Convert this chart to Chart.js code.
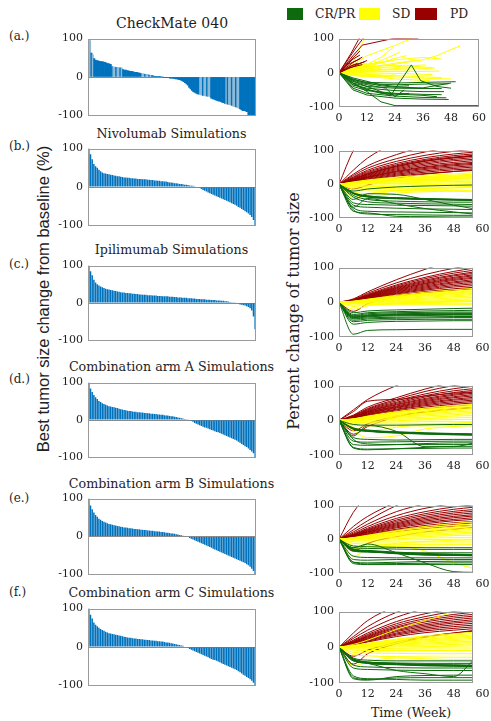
<!DOCTYPE html>
<html>
<head>
<meta charset="utf-8">
<script src="https://cdn.jsdelivr.net/npm/chart.js@4.4.1/dist/chart.umd.min.js"></script>
<style>
  html, body { margin: 0; padding: 0; background: #fff; }
  body { position: relative; width: 491px; height: 721px; overflow: hidden; }
  canvas { position: absolute; }
  .txt { position: absolute; font-family: 'DejaVu Serif', serif; color: #1e1e1e; white-space: nowrap; line-height: 1; }
  .c { transform: translate(-50%, -50%); }
  .v { transform: translateY(-50%); }
  .rot { transform: translate(-50%, -50%) rotate(-90deg); }
  .sw { position: absolute; }
</style>
</head>
<body>

<!-- legend -->
<div class="sw" style="left:287px;top:8px;width:16px;height:12px;background:#0d6b0d"></div>
<div class="txt v" style="left:315px;top:14px;font-size:12.3px">CR/PR</div>
<div class="sw" style="left:359px;top:8px;width:21px;height:12px;background:#ffff00"></div>
<div class="txt v" style="left:392px;top:14px;font-size:12.3px">SD</div>
<div class="sw" style="left:415px;top:8px;width:22px;height:12px;background:#990000"></div>
<div class="txt v" style="left:450px;top:14px;font-size:12.3px">PD</div>

<!-- panel titles -->
<div class="txt c" style="left:172px;top:23px;font-size:14px">CheckMate 040</div>
<div class="txt c" style="left:171.5px;top:134px;font-size:12.7px">Nivolumab Simulations</div>
<div class="txt c" style="left:171.5px;top:250px;font-size:12.7px">Ipilimumab Simulations</div>
<div class="txt c" style="left:171.5px;top:367px;font-size:12.7px">Combination arm A Simulations</div>
<div class="txt c" style="left:171.5px;top:484px;font-size:12.7px">Combination arm B Simulations</div>
<div class="txt c" style="left:171.5px;top:593px;font-size:12.7px">Combination arm C Simulations</div>

<!-- panel letters -->
<div class="txt v" style="left:9px;top:36px;font-size:12px">(a.)</div>
<div class="txt v" style="left:9px;top:146px;font-size:12px">(b.)</div>
<div class="txt v" style="left:9px;top:264px;font-size:12px">(c.)</div>
<div class="txt v" style="left:9px;top:379px;font-size:12px">(d.)</div>
<div class="txt v" style="left:9px;top:498px;font-size:12px">(e.)</div>
<div class="txt v" style="left:9px;top:592px;font-size:12px">(f.)</div>

<!-- axis titles -->
<div class="txt rot" style="left:43px;top:299px;font-size:16.5px;font-family:'Liberation Sans',Arial,sans-serif;color:#222">Best tumor size change from baseline (%)</div>
<div class="txt rot" style="left:294px;top:311px;font-size:16px">Percent change of tumor size</div>
<div class="txt c" style="left:411px;top:713px;font-size:12.6px">Time (Week)</div>

<script>
// ---------------- tick labels ----------------
const RESPONSE_TICKS = [-100, 0, 100];
const WEEK_TICKS = [0, 12, 24, 36, 48, 60];

// ---------------- waterfall data: best change from baseline (%), sorted ----------------
const CM040_BEST = [
  97, 95, 62, 58, 48,
  44, 43, 42, 41, 40, 40, 39, 38,
  36, 35, 34, 33,
  27, 26, 26, 25, 25, 24, 24, 23,
  19, 18, 18, 17, 16, 15, 15, 14, 13, 12, 12, 11, 10,
  9, 8, 8, 7, 6, 6, 5, 4, 4, 3, 2,
  2, 1, 1, 1, 0, 0, -1,
  -1, -2, -2, -3, -3, -4, -4, -5, -5, -6, -7, -8,
  -10, -12, -15, -18, -21,
  -27, -31, -35, -38, -40,
  -42, -44, -45,
  -46, -47, -48, -48, -49, -50, -50, -51,
  -55, -57, -58, -60, -61, -62, -63, -64, -66, -67,
  -69, -70, -71, -72, -73, -74, -76, -77, -78, -80, -81, -83,
  -86, -88, -88, -89, -90,
  -98, -99, -100, -100, -100, -100
];

const NIVO_BEST = [
  100, 85, 72, 60, 54, 50, 45, 41, 38, 36,
  35, 34, 33, 32, 31, 30, 29, 28, 28, 27,
  26, 25, 25, 24, 24, 23, 23, 22, 22, 21,
  21, 21, 20, 20, 20, 19, 19, 18, 18, 17,
  17, 16, 16, 15, 15, 14, 14, 13, 12, 12,
  11, 10, 10, 9, 8, 8, 7, 6, 6, 5,
  4, 3, 3, 2, 1, 0, -2, -5, -8, -10,
  -12, -14, -16, -18, -20, -22, -24, -26, -28, -30,
  -32, -34, -36, -38, -40, -42, -44, -46, -49, -52,
  -54, -57, -60, -63, -66, -69, -73, -78, -86, -100
];

const IPI_BEST = [
  100, 85, 74, 62, 55, 50, 47, 44, 42, 40,
  38, 37, 36, 35, 34, 33, 32, 31, 30, 29,
  28, 28, 27, 27, 26, 26, 25, 25, 24, 24,
  23, 23, 22, 22, 22, 21, 21, 21, 20, 20,
  20, 19, 19, 19, 18, 18, 18, 18, 17, 17,
  17, 16, 16, 15, 15, 15, 14, 14, 14, 13,
  13, 13, 12, 12, 11, 11, 11, 10, 10, 10,
  9, 9, 9, 8, 8, 8, 7, 7, 7, 6,
  6, 5, 5, 4, 3, 2, 2, 1, 0, -2,
  -4, -5, -6, -7, -9, -11, -14, -20, -36, -70
];

const ARM_A_BEST = [
  100, 84, 75, 67, 61, 56, 51, 48, 45, 43,
  41, 39, 37, 36, 35, 34, 33, 32, 30, 29,
  28, 27, 26, 25, 24, 24, 23, 22, 22, 21,
  21, 20, 20, 19, 19, 18, 18, 17, 17, 16,
  16, 15, 15, 14, 14, 13, 12, 12, 11, 10,
  10, 9, 8, 7, 6, 5, 4, 3, 2, 1,
  0, -3, -5, -8, -10, -12, -14, -16, -18, -20,
  -21, -23, -25, -27, -28, -30, -32, -33, -35, -37,
  -39, -41, -43, -45, -47, -49, -51, -53, -55, -58,
  -61, -64, -67, -70, -72, -76, -80, -84, -89, -100
];

const ARM_B_BEST = [
  100, 82, 72, 63, 57, 52, 47, 44, 41, 39,
  37, 35, 33, 32, 31, 30, 29, 28, 27, 26,
  25, 24, 24, 23, 22, 22, 21, 20, 20, 19,
  19, 18, 18, 17, 17, 16, 16, 15, 15, 14,
  14, 13, 13, 12, 12, 11, 10, 10, 9, 8,
  8, 7, 6, 5, 4, 3, 2, 1, 0, -1,
  -4, -6, -8, -10, -12, -14, -16, -18, -20, -22,
  -24, -26, -28, -30, -32, -34, -36, -38, -40, -42,
  -44, -46, -48, -50, -52, -54, -56, -58, -60, -62,
  -64, -66, -68, -70, -73, -76, -80, -85, -91, -100
];

const ARM_C_BEST = [
  100, 84, 74, 64, 58, 54, 50, 47, 44, 42,
  40, 38, 36, 35, 34, 33, 32, 31, 30, 29,
  28, 27, 26, 25, 24, 24, 23, 22, 22, 21,
  21, 20, 20, 19, 19, 18, 18, 17, 17, 16,
  16, 15, 15, 14, 14, 13, 12, 12, 11, 10,
  9, 8, 7, 6, 5, 4, 3, 1, 0, -2,
  -5, -7, -9, -11, -13, -15, -17, -19, -21, -23,
  -25, -27, -29, -31, -33, -34, -36, -38, -40, -42,
  -44, -46, -48, -50, -52, -54, -56, -58, -60, -63,
  -66, -69, -72, -75, -78, -81, -84, -88, -93, -100
];

// ---------------- CheckMate 040 trajectories: [week, % change] ----------------
const CM040_PD = [
  [[0, 0], [4, 40], [8, 80], [12, 115]],
  [[0, 0], [5, 55], [9, 105]],
  [[0, 0], [4, 30], [9, 64]],
  [[0, 0], [6, 30], [10, 46]],
  [[0, 0], [4, 25], [9, 41]],
  [[0, 0], [6, 22], [11, 32]],
  [[0, 0], [5, 20], [8, 28]],
  [[0, 0], [6, 40], [9, 52]],
  [[0, 0], [6, 50], [10, 81], [23, 100], [34, 101]],
  [[0, 0], [6, 18], [12, 36]],
  [[0, 0], [4, 14], [10, 24]]
];

const CM040_SD = [
  [[0, 0], [6, 30], [11, 100]],
  [[0, 0], [6, 25], [12, 50], [24, 80], [31, 100]],
  [[0, 0], [6, 10], [12, 15], [18, 20], [24, 25], [30, 32], [36, 38], [42, 50], [48, 68], [52, 79]],
  [[0, 0], [6, 15], [12, 25], [18, 45], [23, 73]],
  [[0, 0], [6, 12], [12, 22], [18, 35], [26, 60]],
  [[0, 0], [6, 10], [12, 20], [18, 30], [24, 42], [29, 50]],
  [[0, 0], [6, 8], [12, 15], [24, 28], [33, 37]],
  [[0, 0], [6, 6], [12, 12], [24, 18], [37, 23]],
  [[0, 0], [6, 5], [12, 8], [24, 12], [34, 18]],
  [[0, 0], [6, 4], [12, 6], [24, 10], [36, 12], [41, 14]],
  [[0, 0], [6, 3], [12, 4], [24, 5], [31, 5]],
  [[0, 0], [6, 2], [12, 3], [24, 4], [36, 4], [43, 5]],
  [[0, 0], [6, 1], [12, 0], [24, -2], [40, -5]],
  [[0, 0], [6, -2], [12, -5], [24, -8], [36, -12], [44, -14]],
  [[0, 0], [6, -4], [12, -8], [24, -12], [36, -16], [48, -18]],
  [[0, 0], [6, -5], [12, -10], [24, -18], [39, -23]],
  [[0, 0], [6, 15], [12, 25], [18, 32]],
  [[0, 0], [6, 18], [12, 28]],
  [[0, 0], [6, 8], [12, 10], [18, 12]],
  [[0, 0], [6, 5], [12, -3], [18, -8]],
  [[0, 0], [6, 12], [12, 18], [24, 22], [30, 20], [40, 15]],
  [[0, 0], [6, -8], [12, -12], [18, -10], [24, -6]],
  [[0, 0], [12, 20], [24, 38], [36, 45], [44, 40]]
];

const CM040_CR = [
  [[0, 0], [6, -30], [12, -55], [18, -85], [24, -96], [60, -96]],
  [[0, 0], [6, -25], [12, -40], [18, -55], [22, -68], [31, 23], [35, -23], [42, -40], [48, -45]],
  [[0, 0], [6, -20], [12, -28], [24, -30], [36, -28], [50, -26]],
  [[0, 0], [6, -22], [12, -32], [24, -35], [36, -33], [47, -32]],
  [[0, 0], [6, -30], [12, -40], [24, -45], [36, -46], [44, -46]],
  [[0, 0], [6, -35], [12, -45], [24, -52], [36, -55], [45, -55]],
  [[0, 0], [6, -40], [12, -52], [24, -60], [36, -63], [44, -64]],
  [[0, 0], [6, -45], [12, -60], [24, -68], [36, -72], [46, -73]],
  [[0, 0], [6, -50], [12, -65], [24, -74], [36, -77], [47, -78]],
  [[0, 0], [6, -30], [12, -50], [18, -60], [24, -65], [30, -60]],
  [[0, 0], [6, -15], [12, -25], [18, -35], [24, -40], [30, -38]],
  [[0, 0], [6, -25], [12, -35], [20, -45], [24, -70], [28, -50]],
  [[0, 0], [6, -18], [12, -30], [18, -38], [24, -42], [36, -44], [48, -30]],
  [[0, 0], [6, -35], [12, -48], [18, -58], [24, -62], [36, -66], [42, -70]]
];

// ---------------- simulated trajectories: % change at WEEKS ----------------
const WEEKS = [0, 6, 12, 24, 36, 48, 56];

const NIVO_PD = [
  [0, 100, 160, 230, 280, 320, 340],
  [0, 42, 78, 125, 155, 175, 185],
  [0, 30, 55, 88, 112, 130, 138],
  [0, 26, 48, 76, 96, 110, 116],
  [0, 22, 42, 68, 86, 98, 104],
  [0, 20, 38, 62, 79, 90, 95],
  [0, 18, 35, 58, 74, 85, 90],
  [0, 16, 32, 55, 71, 81, 86],
  [0, 15, 31, 53, 69, 79, 84],
  [0, 15, 30, 52, 68, 78, 83],
  [0, 14, 28, 49, 64, 74, 79],
  [0, 13, 26, 46, 60, 70, 74],
  [0, 12, 24, 43, 56, 65, 70],
  [0, 11, 22, 40, 52, 61, 65],
  [0, 11, 21, 38, 50, 58, 62],
  [0, 10, 20, 36, 47, 55, 59],
  [0, 9, 18, 33, 44, 51, 55],
  [0, 8, 16, 30, 40, 47, 51],
  [0, 7, 14, 27, 36, 43, 46],
  [0, 6, 12, 24, 32, 38, 41],
  [0, -14, -2, 18, 30, 38, 43]
];
const NIVO_SD = [
  [0, 7, 13, 21, 27, 31, 34],
  [0, 6, 11, 18, 23, 27, 30],
  [0, 5, 10, 16, 21, 25, 27],
  [0, 4, 9, 15, 19, 23, 25],
  [0, 4, 8, 14, 18, 21, 23],
  [0, 3, 7, 12, 16, 19, 21],
  [0, 3, 6, 11, 14, 17, 19],
  [0, 2, 5, 9, 12, 15, 16],
  [0, 2, 4, 7, 10, 12, 13],
  [0, 1, 2, 4, 6, 8, 9],
  [0, 0, 1, 2, 3, 4, 5],
  [0, -3, -3, -2, -1, 0, 1],
  [0, -6, -7, -6, -5, -4, -4],
  [0, -10, -12, -12, -11, -11, -10],
  [0, -14, -17, -18, -18, -18, -18],
  [0, -40, -28, -18, -12, -8, -6],
  [0, -30, -36, -26, -22, -21, -22],
  [0, -22, -28, -20, -14, -10, -8]
];
const NIVO_CR = [
  [0, -27, -36, -41, -44, -46, -47],
  [0, -26, -35, -40, -43, -45, -46],
  [0, -25, -34, -40, -42, -44, -45],
  [0, -28, -38, -43, -45, -47, -48],
  [0, -27, -37, -42, -45, -46, -47],
  [0, -33, -45, -50, -52, -53, -53],
  [0, -55, -60, -62, -63, -64, -65],
  [0, -62, -68, -71, -73, -74, -75],
  [0, -70, -80, -82, -83, -84, -85],
  [0, -76, -88, -90, -91, -92, -92],
  [0, -80, -85, -95, -96, -97, -97],
  [0, -20, -14, -8, -5, -3, -2],
  [0, -45, -28, -30, -45, -62, -72],
  [0, -68, -42, -58, -72, -82, -88],
  [0, -38, -52, -56, -58, -59, -60]
];

const IPI_PD = [
  [0, 10, 30, 65, 95, 120, 135],
  [0, 8, 26, 56, 80, 98, 108],
  [0, 7, 23, 50, 72, 89, 98],
  [0, 7, 21, 47, 68, 84, 92],
  [0, 6, 20, 44, 64, 79, 87],
  [0, 6, 19, 42, 61, 76, 83],
  [0, 5, 18, 40, 58, 72, 79],
  [0, 5, 17, 38, 55, 69, 76],
  [0, 5, 16, 36, 53, 66, 72],
  [0, 4, 15, 34, 50, 63, 69],
  [0, 4, 14, 32, 47, 59, 65],
  [0, 4, 13, 30, 44, 56, 61],
  [0, 3, 12, 28, 41, 52, 57],
  [0, 3, 11, 26, 38, 48, 53],
  [0, 3, 10, 24, 35, 44, 48],
  [0, 2, 9, 21, 31, 39, 43],
  [0, 2, 8, 19, 28, 35, 39],
  [0, -26, -4, 15, 28, 36, 40]
];
const IPI_SD = [
  [0, 3, 9, 20, 29, 36, 40],
  [0, 3, 8, 18, 26, 32, 36],
  [0, 2, 7, 16, 24, 29, 33],
  [0, 2, 7, 15, 22, 27, 31],
  [0, 2, 6, 14, 20, 25, 28],
  [0, 1, 5, 12, 18, 22, 25],
  [0, 1, 4, 10, 15, 19, 22],
  [0, 1, 3, 8, 12, 16, 18],
  [0, 0, 2, 6, 9, 12, 14],
  [0, 0, 1, 4, 6, 8, 10],
  [0, -1, 0, 2, 3, 5, 6],
  [0, -2, -2, -1, 0, 1, 2],
  [0, -4, -4, -4, -4, -4, -4],
  [0, -8, -7, -7, -7, -7, -7],
  [0, -12, -8, -4, -1, 1, 2],
  [0, -20, -10, -3, 1, 3, 4]
];
const IPI_CR = [
  [0, -44, -40, -37, -36, -35, -35],
  [0, -42, -38, -35, -34, -33, -33],
  [0, -46, -42, -39, -38, -37, -37],
  [0, -43, -39, -36, -35, -34, -34],
  [0, -40, -36, -33, -32, -31, -31],
  [0, -48, -45, -43, -42, -41, -41],
  [0, -30, -25, -22, -20, -18, -17],
  [0, -35, -30, -27, -25, -24, -23],
  [0, -38, -33, -30, -29, -28, -28],
  [0, -52, -48, -46, -45, -44, -44],
  [0, -56, -52, -50, -49, -49, -49],
  [0, -63, -58, -55, -54, -53, -53],
  [0, -92, -81, -79, -78, -78, -78]
];

const ARM_A_PD = [
  [0, 30, 60, 100, 130, 150, 160],
  [0, 25, 55, 60, 70, 78, 82],
  [0, 15, 38, 65, 90, 110, 120],
  [0, 13, 34, 60, 83, 100, 108],
  [0, 12, 32, 56, 76, 91, 98],
  [0, 11, 30, 52, 71, 85, 91],
  [0, 10, 28, 49, 67, 80, 86],
  [0, 9, 26, 46, 63, 75, 81],
  [0, 9, 25, 44, 60, 72, 78],
  [0, 8, 23, 41, 57, 68, 74],
  [0, 8, 22, 39, 54, 65, 70],
  [0, 7, 20, 37, 51, 61, 66],
  [0, 7, 19, 35, 48, 58, 62],
  [0, 6, 17, 32, 45, 54, 58],
  [0, 6, 16, 30, 42, 50, 54],
  [0, 5, 14, 27, 38, 46, 50],
  [0, 5, 12, 24, 34, 41, 45],
  [0, -40, -18, 10, 25, 33, 38],
  [0, -30, -10, 12, 24, 32, 36]
];
const ARM_A_SD = [
  [0, 4, 12, 25, 35, 42, 46],
  [0, 4, 11, 23, 32, 39, 43],
  [0, 3, 10, 21, 30, 36, 40],
  [0, 3, 9, 19, 27, 33, 37],
  [0, 3, 8, 17, 25, 30, 34],
  [0, 2, 7, 15, 22, 27, 31],
  [0, 2, 6, 13, 19, 24, 27],
  [0, 1, 5, 11, 16, 20, 23],
  [0, 1, 4, 9, 13, 16, 19],
  [0, 0, 2, 6, 9, 12, 14],
  [0, -1, 0, 3, 5, 7, 9],
  [0, -3, -3, -1, 1, 2, 3],
  [0, -6, -6, -5, -4, -4, -4],
  [0, -10, -10, -10, -10, -10, -10],
  [0, -15, -16, -16, -16, -16, -16],
  [0, -30, -50, -45, -25, -18, -14],
  [0, -20, -30, -20, -12, -8, -6]
];
const ARM_A_CR = [
  [0, -24, -30, -35, -38, -40, -41],
  [0, -23, -29, -34, -37, -39, -40],
  [0, -25, -31, -36, -39, -41, -42],
  [0, -24, -31, -35, -38, -40, -41],
  [0, -26, -32, -37, -40, -42, -43],
  [0, -22, -28, -33, -36, -38, -39],
  [0, -12, -14, -14, -13, -12, -12],
  [0, -50, -55, -57, -56, -55, -55],
  [0, -60, -63, -62, -61, -60, -60],
  [0, -70, -72, -70, -67, -65, -65],
  [0, -80, -85, -82, -78, -75, -75],
  [0, -78, -83, -82, -81, -80, -80],
  [0, -45, -15, -32, -76, -76, -66],
  [0, -55, -68, -70, -70, -70, -70]
];

const ARM_B_PD = [
  [0, 80, 130, 200, 250, 290, 310],
  [0, 38, 68, 110, 140, 160, 170],
  [0, 28, 55, 100, 130, 150, 160],
  [0, 22, 45, 82, 105, 122, 130],
  [0, 18, 38, 70, 92, 106, 113],
  [0, 15, 33, 62, 82, 96, 102],
  [0, 14, 30, 57, 76, 89, 95],
  [0, 13, 28, 53, 71, 83, 88],
  [0, 12, 26, 49, 66, 78, 83],
  [0, 11, 24, 46, 62, 73, 78],
  [0, 10, 22, 43, 58, 68, 73],
  [0, 10, 21, 40, 54, 64, 69],
  [0, 9, 19, 37, 50, 59, 64],
  [0, 8, 17, 34, 46, 55, 59],
  [0, 7, 15, 30, 41, 49, 53],
  [0, 6, 13, 27, 37, 44, 48],
  [0, 5, 11, 23, 32, 38, 41],
  [0, -35, -12, 8, 22, 30, 35]
];
const ARM_B_SD = [
  [0, 5, 12, 26, 38, 47, 52],
  [0, 4, 11, 24, 34, 42, 46],
  [0, 4, 10, 21, 30, 37, 41],
  [0, 3, 9, 19, 27, 33, 37],
  [0, 3, 8, 17, 24, 30, 33],
  [0, 2, 7, 15, 21, 26, 29],
  [0, 2, 6, 13, 18, 23, 25],
  [0, 1, 5, 11, 15, 19, 21],
  [0, 1, 4, 9, 12, 15, 17],
  [0, 0, 2, 6, 8, 11, 12],
  [0, -1, 0, 2, 4, 5, 6],
  [0, -3, -3, -2, -1, 0, 0],
  [0, -7, -8, -8, -8, -8, -8],
  [0, -12, -14, -15, -15, -15, -15],
  [0, -18, -20, -22, -23, -24, -25],
  [0, -50, -30, -20, -35, -70, -86],
  [0, -28, -22, -12, -6, -3, -2]
];
const ARM_B_CR = [
  [0, -31, -35, -41, -45, -46, -47],
  [0, -30, -34, -40, -44, -45, -46],
  [0, -32, -36, -42, -46, -47, -48],
  [0, -31, -36, -41, -45, -47, -48],
  [0, -33, -37, -43, -47, -48, -49],
  [0, -29, -33, -38, -42, -44, -45],
  [0, -20, -22, -24, -25, -25, -25],
  [0, -25, -27, -29, -30, -30, -30],
  [0, -35, -38, -40, -40, -40, -40],
  [0, -50, -54, -55, -55, -55, -55],
  [0, -60, -62, -60, -60, -60, -60],
  [0, -68, -70, -68, -66, -65, -65],
  [0, -68, -73, -72, -71, -70, -70],
  [0, -72, -75, -75, -75, -75, -75],
  [0, -25, -14, -40, -70, -96, -98]
];

const ARM_C_PD = [
  [0, 40, 75, 115, 140, 160, 170],
  [0, 30, 58, 98, 122, 140, 148],
  [0, 25, 48, 84, 108, 124, 132],
  [0, 20, 40, 72, 94, 108, 115],
  [0, 18, 36, 66, 86, 100, 106],
  [0, 16, 33, 61, 80, 92, 98],
  [0, 15, 31, 57, 75, 87, 92],
  [0, 14, 29, 54, 71, 82, 87],
  [0, 13, 27, 50, 66, 77, 82],
  [0, 12, 25, 47, 62, 72, 77],
  [0, 11, 23, 44, 58, 68, 72],
  [0, 10, 21, 40, 54, 63, 67],
  [0, 9, 19, 37, 50, 58, 62],
  [0, 8, 17, 34, 46, 53, 57],
  [0, 7, 15, 30, 41, 48, 52],
  [0, -47, -18, 10, 28, 40, 47],
  [0, -25, -8, 14, 30, 40, 45]
];
const ARM_C_SD = [
  [0, 5, 11, 23, 32, 38, 42],
  [0, 4, 10, 21, 29, 35, 38],
  [0, 4, 9, 19, 26, 31, 34],
  [0, 3, 8, 17, 23, 28, 31],
  [0, 3, 7, 15, 21, 25, 28],
  [0, 2, 6, 13, 18, 22, 25],
  [0, 2, 5, 11, 15, 19, 21],
  [0, 1, 4, 9, 12, 15, 17],
  [0, 1, 3, 7, 9, 12, 13],
  [0, 0, 2, 4, 6, 8, 9],
  [0, -1, 0, 1, 2, 3, 4],
  [0, -4, -4, -3, -2, -2, -2],
  [0, -8, -9, -9, -9, -9, -9],
  [0, -14, -16, -17, -18, -18, -18],
  [0, -20, -24, -26, -27, -28, -28],
  [0, -52, -40, -30, -32, -34, -34],
  [0, 8, 20, 50, 75, 98, 108]
];
const ARM_C_CR = [
  [0, -34, -43, -47, -50, -51, -52],
  [0, -33, -42, -46, -49, -50, -51],
  [0, -35, -44, -48, -51, -52, -53],
  [0, -34, -44, -48, -50, -52, -53],
  [0, -36, -45, -49, -52, -53, -54],
  [0, -32, -41, -45, -48, -49, -50],
  [0, -30, -36, -38, -38, -38, -38],
  [0, -38, -42, -44, -45, -45, -45],
  [0, -50, -55, -57, -58, -58, -58],
  [0, -58, -62, -64, -65, -65, -65],
  [0, -88, -92, -82, -79, -78, -78],
  [0, -85, -90, -86, -85, -85, -85],
  [0, -80, -88, -90, -92, -92, -92],
  [0, -38, -45, -65, -74, -82, -38]
];

// ---------------- styling ----------------
const COL = {
  cr: '#0d6b0d',
  sd: '#ffff00',
  pd: '#990000',
  bar: '#0072bd',
  barLight: '#8cbad9',
  box: '#9a9a9a',
  zero: '#8a8a8a',
  text: '#222'
};
const TICK_FONT = { family: "'DejaVu Serif', serif", size: 11 };

// lighter-shaded bar runs in the CheckMate 040 waterfall (bar indices)
const CM040_LIGHT_RUNS = [[0, 3], [17, 24], [38, 45], [81, 88], [100, 109]];

// plot-area placement of each row
const LEFT_BOX = { x: 88, w: 168, tops: [35, 145, 262, 379, 495, 605], hs: [84, 84, 82, 82, 83, 84] };
const RIGHT_BOX = { x: 339, tops: [35, 147, 264, 382, 502, 608], hs: [72, 71, 73, 73, 71, 75] };
const Y_AXIS_W = 36;

Chart.defaults.font.family = "'DejaVu Serif', serif";

// frame drawn around the plot area, like a boxed axes
const axesBox = {
  id: 'axesBox',
  afterDraw(chart) {
    const a = chart.chartArea, c = chart.ctx;
    c.save();
    c.strokeStyle = COL.box;
    c.lineWidth = 1;
    c.strokeRect(Math.round(a.left) + 0.5, Math.round(a.top) + 0.5,
                 Math.round(a.right - a.left) - 1, Math.round(a.bottom - a.top) - 1);
    c.restore();
  }
};

function makeCanvas(left, top, w, h) {
  const cv = document.createElement('canvas');
  cv.width = w; cv.height = h;
  cv.style.left = left + 'px'; cv.style.top = top + 'px';
  cv.style.width = w + 'px'; cv.style.height = h + 'px';
  document.body.appendChild(cv);
  return cv;
}

function yAxis(zeroLine) {
  return {
    min: -100, max: 100,
    afterBuildTicks: s => { s.ticks = RESPONSE_TICKS.map(v => ({ value: v })); },
    afterFit: s => { s.width = Y_AXIS_W; },
    ticks: { font: TICK_FONT, color: COL.text, padding: 5 },
    grid: {
      display: zeroLine, drawTicks: false, lineWidth: 1,
      color: ctx => (ctx.tick && ctx.tick.value === 0) ? COL.zero : 'rgba(0,0,0,0)'
    },
    border: { display: false }
  };
}

function waterfall(row, values, colorFn, barPct) {
  const top = LEFT_BOX.tops[row], h = LEFT_BOX.hs[row];
  const cv = makeCanvas(LEFT_BOX.x - Y_AXIS_W, top - 8, Y_AXIS_W + LEFT_BOX.w + 4, h + 16);
  new Chart(cv, {
    type: 'bar',
    data: {
      labels: values.map((_, i) => i + 1),
      datasets: [{
        data: values,
        backgroundColor: colorFn,
        borderWidth: 0,
        barPercentage: barPct,
        categoryPercentage: 1
      }]
    },
    options: {
      responsive: false, animation: false, devicePixelRatio: 1,
      layout: { padding: { top: 8, bottom: 8, left: 0, right: 4 } },
      plugins: { legend: { display: false }, tooltip: { enabled: false } },
      scales: { x: { display: false }, y: yAxis(true) }
    },
    plugins: [axesBox]
  });
}

function lineSet(lines, color, toPts, smooth) {
  return lines.map(l => ({
    data: toPts(l),
    borderColor: color,
    borderWidth: 1,
    pointRadius: 0,
    fill: false,
    tension: 0,
    cubicInterpolationMode: smooth ? 'monotone' : 'default',
    borderJoinStyle: 'round'
  }));
}

function spaghetti(row, datasets, xMax, boxW, rightPad) {
  const top = RIGHT_BOX.tops[row], h = RIGHT_BOX.hs[row];
  const cv = makeCanvas(RIGHT_BOX.x - Y_AXIS_W, top - 8, Y_AXIS_W + boxW + rightPad, h + 8 + 20);
  new Chart(cv, {
    type: 'line',
    data: { datasets },
    options: {
      responsive: false, animation: false, devicePixelRatio: 1,
      parsing: false, normalized: true,
      layout: { padding: { top: 8, bottom: 0, left: 0, right: rightPad } },
      plugins: { legend: { display: false }, tooltip: { enabled: false } },
      scales: {
        x: {
          type: 'linear', min: 0, max: xMax,
          afterBuildTicks: s => { s.ticks = WEEK_TICKS.map(v => ({ value: v })); },
          afterFit: s => { s.height = 20; },
          ticks: { font: TICK_FONT, color: COL.text, padding: 5, autoSkip: false, maxRotation: 0 },
          grid: { display: false, drawTicks: false },
          border: { display: false }
        },
        y: yAxis(false)
      }
    },
    plugins: [axesBox]
  });
}

const pairPts = l => l.map(([x, y]) => ({ x, y }));
const gridPts = l => l.map((y, i) => ({ x: WEEKS[i], y }));

// ---------------- left column: waterfalls ----------------
const cmColor = ctx => {
  const i = ctx.dataIndex;
  const light = CM040_LIGHT_RUNS.some(([a, b]) => i >= a && i <= b) && i % 3 !== 2;
  return light ? COL.barLight : COL.bar;
};
waterfall(0, CM040_BEST, cmColor, 1.0);
[NIVO_BEST, IPI_BEST, ARM_A_BEST, ARM_B_BEST, ARM_C_BEST].forEach((vals, k) => {
  waterfall(k + 1, vals, COL.bar, 0.88);
});

// ---------------- right column: trajectories ----------------
spaghetti(0, [
  ...lineSet(CM040_CR, COL.cr, pairPts, false),
  ...lineSet(CM040_PD, COL.pd, pairPts, false),
  ...lineSet(CM040_SD, COL.sd, pairPts, false)
], 60, 144, 8);

[
  [NIVO_CR, NIVO_SD, NIVO_PD],
  [IPI_CR, IPI_SD, IPI_PD],
  [ARM_A_CR, ARM_A_SD, ARM_A_PD],
  [ARM_B_CR, ARM_B_SD, ARM_B_PD],
  [ARM_C_CR, ARM_C_SD, ARM_C_PD]
].forEach(([cr, sd, pd], k) => {
  spaghetti(k + 1, [
    ...lineSet(cr, COL.cr, gridPts, true),
    ...lineSet(sd, COL.sd, gridPts, true),
    ...lineSet(pd, COL.pd, gridPts, true)
  ], 56, 134, 20);
});
</script>
</body>
</html>
